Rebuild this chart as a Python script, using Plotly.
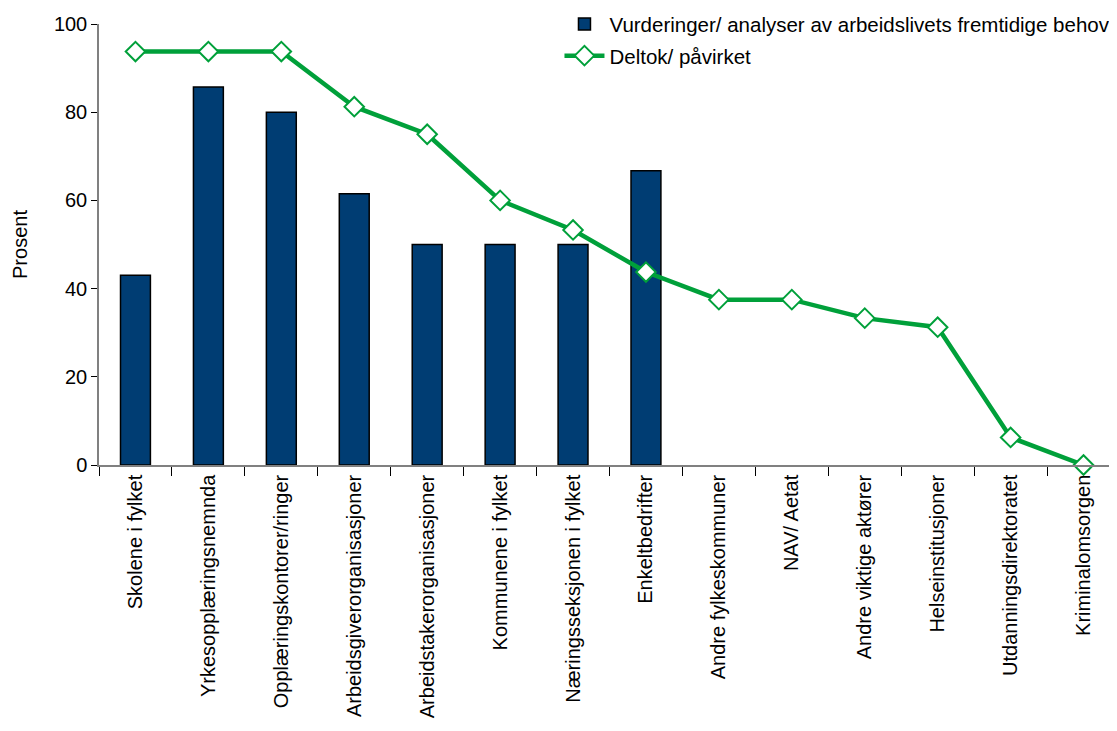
import plotly.graph_objects as go

categories = ["Skolene i fylket", "Yrkesopplæringsnemnda", "Opplæringskontorer/ringer",
              "Arbeidsgiverorganisasjoner", "Arbeidstakerorganisasjoner", "Kommunene i fylket",
              "Næringsseksjonen i fylket", "Enkeltbedrifter", "Andre fylkeskommuner",
              "NAV/ Aetat", "Andre viktige aktører", "Helseinstitusjoner",
              "Utdanningsdirektoratet", "Kriminalomsorgen"]
vurderinger = [43, 85.7, 80, 61.5, 50, 50, 50, 66.7, None, None, None, None, None, None]
deltok = [93.75, 93.75, 93.75, 81.25, 75, 60, 53.3, 43.75, 37.5, 37.5, 33.3, 31.25, 6.25, 0]

font = "Liberation Sans, Arial, sans-serif"

fig = go.Figure()
fig.add_trace(go.Bar(
    x=categories, y=vurderinger,
    name="Vurderinger/ analyser av arbeidslivets fremtidige behov",
    legendgroup="a",
    marker=dict(color="#003d73", line=dict(color="#000000", width=1.5)),
    width=0.41,
))
fig.add_trace(go.Scatter(
    x=categories, y=deltok, mode="lines+markers",
    name="Deltok/ påvirket",
    legendgroup="b",
    line=dict(color="#00a03a", width=4.5),
    marker=dict(symbol="diamond", size=15, color="white",
                line=dict(color="#00a03a", width=2)),
    cliponaxis=False,
))

fig.update_layout(
    width=1117, height=731,
    margin=dict(l=91, r=5, t=16, b=274, autoexpand=False),
    plot_bgcolor="white", paper_bgcolor="white",
    font=dict(family=font, size=20, color="#000000"),
    legend=dict(x=0.451, y=1.045, xanchor="left", yanchor="top",
                bgcolor="rgba(0,0,0,0)", font=dict(size=20.5),
                traceorder="grouped", tracegroupgap=2, itemwidth=40),
    xaxis=dict(type="category", range=[-0.5, 13.5], showline=True, linecolor="#808080", linewidth=1.5,
               ticks="outside", ticklen=9, tickcolor="#000000",
               tickson="boundaries", tickangle=-90, automargin=False,
               tickfont=dict(size=20, family=font), showgrid=False),
    yaxis=dict(range=[0, 100], dtick=20, showline=True, linecolor="#808080", linewidth=1.5,
               ticks="outside", ticklen=6, tickcolor="#000000",
               showgrid=False, zeroline=False, automargin=False,
               tickfont=dict(size=20, family=font),
               title=dict(text="Prosent", font=dict(size=20, family=font), standoff=21)),
)

fig.write_html("out.html")
